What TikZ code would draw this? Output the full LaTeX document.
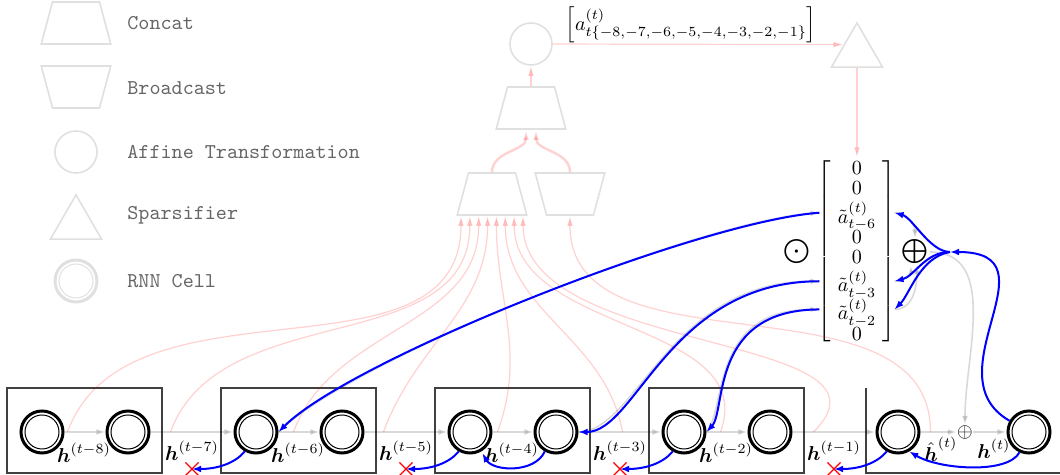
\documentclass[tikz,border=0pt]{standalone}
\usepackage{fontspec}
\usepackage{amsmath}
\usetikzlibrary{arrows,arrows.meta,calc,shapes,positioning,matrix}
\tikzset{>={Latex[length=4.5pt,width=3.4pt]}}
\def\pxu{0.0175cm}
\tikzstyle{rnncell}=[circle,draw=black,line width=1.5pt,minimum size=42*\pxu,inner sep=0pt,path picture={\draw[black,line width=0.5pt] (path picture bounding box.center) circle[radius=17*\pxu];}]
\tikzstyle{legendcell}=[circle,draw=black!12,line width=1.5pt,minimum size=42*\pxu,inner sep=0pt,path picture={\draw[black!12,line width=0.5pt] (path picture bounding box.center) circle[radius=17*\pxu];}]
\tikzstyle{concat}=[trapezium,trapezium left angle=75,trapezium right angle=75,draw=black!12,line width=0.8pt,inner xsep=23.5*\pxu,inner ysep=21*\pxu,minimum size=0pt]
\tikzstyle{broadcast}=[concat,shape border rotate=180]
\tikzstyle{affine}=[circle,draw=black!12,line width=0.8pt,minimum size=42*\pxu,inner sep=0pt]
\tikzstyle{sparsifier}=[regular polygon,regular polygon sides=3,draw=black!12,line width=0.8pt,minimum size=59*\pxu,inner sep=0pt]
\tikzstyle{cellbox}=[rectangle,draw=black!75,line width=0.6pt,minimum width=155*\pxu,minimum height=85*\pxu,inner sep=0pt]
\tikzstyle{fwd}=[-{Latex[length=4.5pt,width=3pt]},black,opacity=0.15,line width=0.8pt]
\tikzstyle{feed}=[-{Latex[length=5pt,width=2.8pt]},red,opacity=0.18,line width=0.6pt]
\tikzstyle{grad}=[->,blue,line width=1pt]
\tikzstyle{dropped}=[cross out,draw=red,line width=0.6pt,minimum size=12*\pxu,inner sep=0pt]
\tikzstyle{legendtext}=[anchor=west,text=black!60,font=\ttfamily\fontsize{10.5pt}{12pt}\selectfont,inner sep=0pt]

\begin{document}
\begin{tikzpicture}[x=0.0175cm,y=0.0175cm]
\useasboundingbox (0,0) rectangle (1060,475);
\def \boxpitch {214};
\def \cellgap {86};
\def \rowy {43};

% legend
\node[concat] (lgconcat) at (76,452) {};
\node[legendtext] (lgconcattxt) at (127,452) {Concat};
\node[broadcast] (lgbroad) at (76,388) {};
\node[legendtext] (lgbroadtxt) at (127,387) {Broadcast};
\node[affine] (lgaff) at (76,323) {};
\node[legendtext] (lgafftxt) at (127,323) {Affine Transformation};
\node[sparsifier] (lgspar) at (76,250.6) {};
\node[legendtext] (lgspartxt) at (127,260) {Sparsifier};
\node[legendcell] (lgcell) at (76,194) {};
\node[legendtext] (lgcelltxt) at (127,194) {RNN Cell};

% cells
\foreach \k in {0,...,3} {
	\pgfmathtruncatemacro{\i}{2*\k+1};
	\pgfmathtruncatemacro{\j}{2*\k+2};
	\node[cellbox] (b\k) at (84.5+\k*\boxpitch, 44.5) {};
	\node[rnncell] (c\i) at (42+\k*\boxpitch, \rowy) {};
	\node[rnncell] (c\j) at (42+\cellgap+\k*\boxpitch, \rowy) {};
};
\node[rnncell] (c9) at (898,\rowy) {};
\node[inner sep=0pt] (sp) at (965,\rowy) {$\oplus$};
\node[rnncell] (c10) at (1029,\rowy) {};
\draw[black!75,line width=0.6pt] (866,87) |- (1060,2);

\foreach \i in {1,...,8} {
	\pgfmathtruncatemacro{\j}{\i + 1};
	\draw[fwd] (c\i) -- (c\j);
};
\draw[fwd] (c9) -- (sp);
\draw[fwd] (sp) -- (c10);

\foreach \k in {0,...,3} {
	\pgfmathtruncatemacro{\lagin}{8-2*\k};
	\pgfmathtruncatemacro{\laggap}{7-2*\k};
	\node (hin\k) at (84+\k*\boxpitch, 22) {$\boldsymbol{h}^{(t-\lagin)}$};
	\node (hgap\k) at (192+\k*\boxpitch, 24) {$\boldsymbol{h}^{(t-\laggap)}$};
	\node[dropped] (x\k) at (192+\k*\boxpitch, 6) {};
};
\node[inner sep=0pt] (hhat) at (941,26) {$\hat{\boldsymbol{h}}^{(t)}$};
\node[inner sep=0pt] (hnow) at (994,26) {$\boldsymbol{h}^{(t)}$};

% attention part
\node[affine] (aff) at (531,431) {};
\node[concat] (uc) at (531,367) {};
\node[concat] (lc) at (492,281) {};
\node[broadcast] (bc) at (570,281) {};
\node[sparsifier] (spar) at (857,422.6) {};
\node[inner sep=0pt] (alabel) at (691,450) {$\Bigl[a^{(t)}_{t\{-8,-7,-6,-5,-4,-3,-2,-1\}}\Bigr]$};

\matrix (m) [matrix of math nodes, left delimiter={[}, right delimiter={]}, row sep=3.6pt, inner sep=2pt, nodes={inner sep=0pt, text depth=0pt}] at (857,224) {
0\\ 0\\ \tilde{a}^{(t)}_{t-6}\\ 0\\ 0\\ \tilde{a}^{(t)}_{t-3}\\ \tilde{a}^{(t)}_{t-2}\\ 0\\
};
\coordinate (r6w) at ($(m-3-1 -| m.west)+(-14,0)$);
\coordinate (r3w) at ($(m-6-1 -| m.west)+(-14,0)$);
\coordinate (r2w) at ($(m-7-1 -| m.west)+(-14,0)$);
\coordinate (r6e) at ($(m-3-1 -| m.east)+(14,0)$);
\coordinate (r3e) at ($(m-6-1 -| m.east)+(14,0)$);
\coordinate (r2e) at ($(m-7-1 -| m.east)+(14,0)$);

\node[inner sep=0pt] (odot) at (797,223) {\large$\bigodot$};
\node[inner sep=0.5pt] (bp) at (915,223) {\large$\bigoplus$};
\coordinate (J) at (950,223);

\draw[feed] (uc.north) -- (aff.south);
\draw[feed] (aff) -- ($(spar.corner 1)!0.5!(spar.corner 2)$);
\draw[feed] (spar.south) -- (m.north);
\draw[feed,line width=1.2pt] (lc.north) to[out=90,in=-90] ([xshift=-5*\pxu]uc.south);
\draw[feed,line width=1.2pt] (bc.north) to[out=90,in=-90] ([xshift=5*\pxu]uc.south);

\foreach \src/\dx/\ang [count=\i] in {1/3/70,2/20/70,3/15/70,4/19/70,5/5/70,6/44/100,7/14/70,8/21/45} {
	\draw[feed] ([xshift=\dx*\pxu]c\src.east) to[out=\ang,in=-90] ([xshift={(\i-4.5)*8.86*\pxu}]lc.south);
};
\draw[feed] ([xshift=10*\pxu]c9.east) to[out=90,in=-90] (bc.south);

% forward
\draw[fwd] (c3.east) .. controls +(72,72) and +(-122,-9) .. (r6w);
\draw[fwd] (c6.east) .. controls +(58,0) and +(-150,0) .. (r3w);
\draw[fwd] (c7.east) .. controls +(20,22) and +(-110,0) .. (r2w);
\draw[fwd] (r6e) to[out=0,in=90] (bp.north);
\draw[fwd] (r3e) to[out=0,in=-90] ([xshift=-4*\pxu]bp.south);
\draw[fwd] (r2e) to[out=0,in=-90] ([xshift=2*\pxu]bp.south);
\draw[fwd] (bp.east) to[out=0,in=90] (sp.north);

% backward
\draw[grad] (r6w) .. controls +(-122,-9) and +(72,72) .. (c3.east);
\draw[grad] (r3w) .. controls +(-150,0) and +(58,0) .. (c6.east);
\draw[grad] (r2w) .. controls +(-110,0) and +(20,22) .. (c7.east);
\draw[grad] (J) .. controls +(-20,0) and +(18,-5) .. (r6e);
\draw[grad] (J) .. controls +(-25,0) and +(20,5) .. (r3e);
\draw[grad] (J) .. controls +(-30,-5) and +(15,15) .. (r2e);
\draw[grad] (c10.150) .. controls +(-80,46) and +(110,0) .. (J);

\foreach \k in {0,...,3} {
	\pgfmathtruncatemacro{\nx}{2*\k+3};
	\draw[grad] (c\nx.240) .. controls +(-10,-12) and +(25,0) .. (x\k.center);
};
\draw[grad,shorten >=1pt] (c6.240) .. controls +(-10,-22) and +(12,-20) .. (c5.-60);
\draw[grad] (c10.-115) .. controls +(-12,-22) and +(30,-18) .. (c9.-60);

\end{tikzpicture}
\end{document}
